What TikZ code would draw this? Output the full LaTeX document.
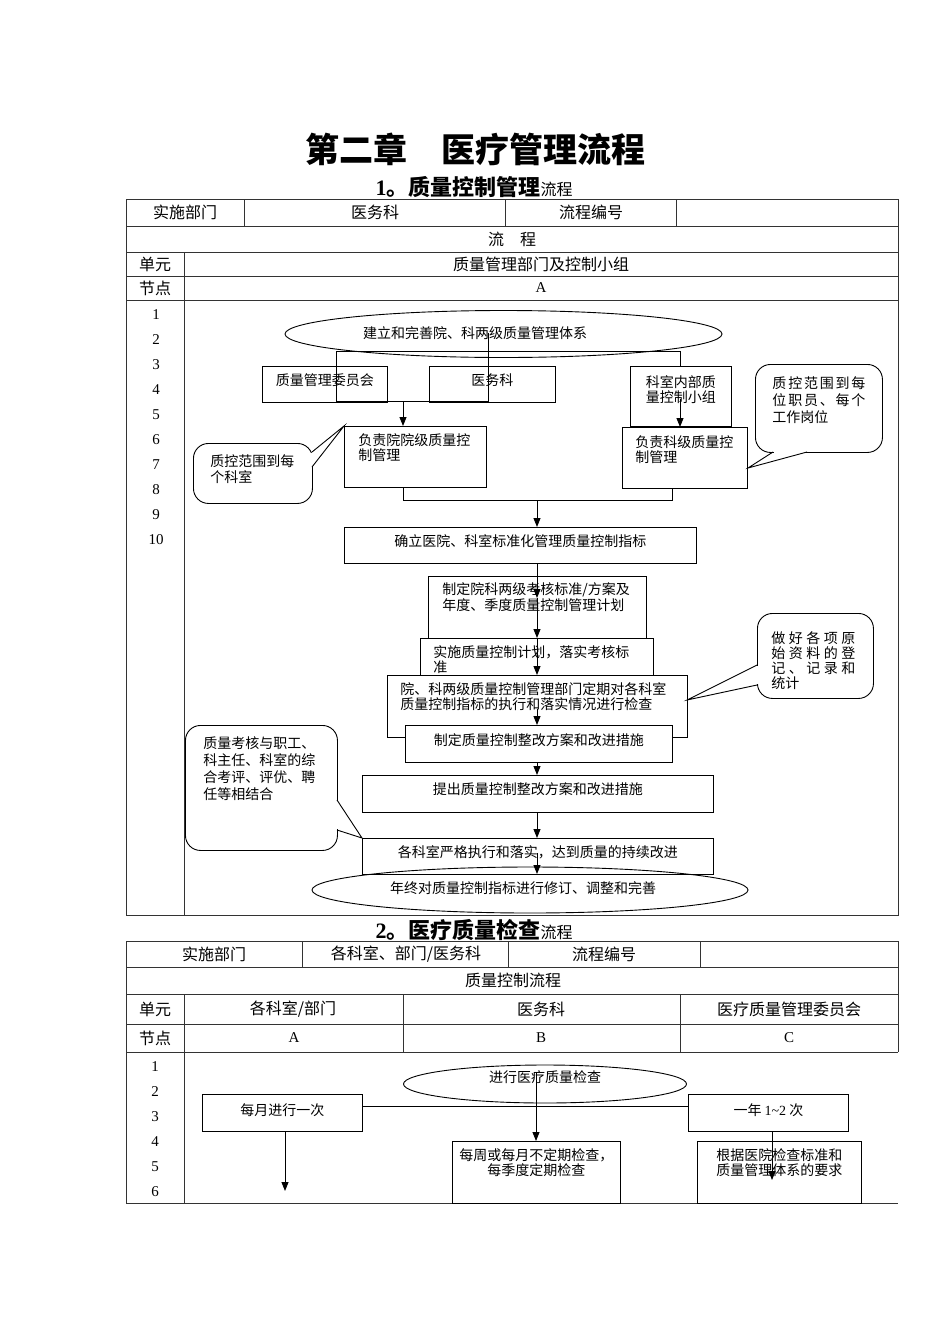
\documentclass[tikz,border=0pt]{standalone}
\usepackage{fontspec}
\setmainfont{Liberation Serif}
\newfontfamily\cjk{Noto Sans CJK SC}
\usetikzlibrary{arrows.meta,shapes.geometric,calc}
\newcommand\pbx[5]{\parbox[c][#2pt][t]{#1pt}{#3\vspace*{#4pt}#5}}
\newcommand\spr[2]{\makebox[#1pt][s]{#2}}
\begin{document}
\begin{tikzpicture}[x=1pt,y=-1pt,
  tl/.style={draw=black!80, line width=0.8pt},
  ln/.style={line width=0.9pt},
  arr/.style={line width=0.9pt,-{Triangle[length=9pt,width=7pt]}},
  fb/.style={draw, fill=white, line width=0.9pt, inner sep=0pt, anchor=north west, font=\cjk\fontsize{14}{15}\selectfont},
  cl/.style={fb, rounded corners=15pt},
  hd/.style={font=\cjk\fontsize{16}{18}\selectfont, inner sep=0pt},
  num/.style={font=\fontsize{15}{17}\selectfont, inner sep=0pt},
  ft/.style={font=\cjk\fontsize{14}{15}\selectfont, inner sep=0pt},
  el/.style={draw, ellipse, line width=0.9pt, inner sep=0pt},
]
\useasboundingbox (0,0) rectangle (950,1344);

% ---------- titles
\node[font=\cjk\bfseries\fontsize{34}{36}\selectfont, inner sep=0pt] (t0) at (475,149) {第二章　医疗管理流程};
\node[inner sep=0pt] (t1) at (474,187) {{\bfseries\fontsize{22}{24}\selectfont 1}{\cjk\bfseries\fontsize{22}{24}\selectfont 。质量控制管理}{\cjk\fontsize{16}{18}\selectfont 流程}};

% ---------- table 1 frame
\draw[tl] (126,199) rectangle (898,915);
\foreach \yy in {226,252,276,300} \draw[tl] (126,\yy) -- (898,\yy);
\foreach \xx in {244,505,676} \draw[tl] (\xx,199) -- (\xx,226);
\draw[tl] (184,252) -- (184,915);

\node[hd] (a1) at (185,212.5) {实施部门};
\node[hd] (a2) at (375,212.5) {医务科};
\node[hd] (a3) at (591,212.5) {流程编号};
\node[hd] (a4) at (512,239) {流\hspace{1em}程};
\node[hd] (a5) at (155,264) {单元};
\node[hd] (a6) at (541,264) {质量管理部门及控制小组};
\node[hd] (a7) at (155,288) {节点};
\node[num] (a8) at (541,288) {A};
\foreach \i in {1,...,10} \node[num] (n\i) at (156,289.5+25*\i) {\i};

% ---------- table 1 flow
\node[el, minimum width=437pt, minimum height=47pt] (e1) at (503.5,334) {};
\node[ft] (e1t) at (475,333) {建立和完善院、科两级质量管理体系};

\node[fb] (qm) at (262,366) {\pbx{125}{36}{\centering}{7}{质量管理委员会}};
\node[fb] (yw) at (429,366) {\pbx{126}{36}{\centering}{7}{医务科}};
\node[fb] (ks) at (630,366) {\pbx{101}{60}{\centering}{9}{科室内部质\\量控制小组}};

\coordinate (j1) at (336,351);
\coordinate (j2) at (680,351);
\coordinate (j3) at (488,333);
\coordinate (j4) at (336,401);
\coordinate (j5) at (488,401);
\coordinate (j6) at (403,401);
\coordinate (j7) at (680,399);

\node[fb, inner xsep=14pt] (fy) at (344,426) {\pbx{114}{61}{\raggedright}{7}{负责院院级质量控\\制管理}};
\node[fb, inner xsep=13pt] (fk) at (622,427) {\pbx{99}{61}{\raggedright}{8}{负责科级质量控\\制管理}};

\draw[ln] (j1) -- (j2);
\draw[ln] (j1) -- (j4) -- (j5) -- (j3);
\draw[ln] (j2) -- (j2 |- ks.north);
\draw[arr] (j6) -- (j6 |- fy.north);
\draw[arr] (j7) -- (j7 |- fk.north);

% callouts top
\node[cl, inner xsep=17pt] (c1) at (755,364) {\pbx{93}{88}{\raggedright\fontsize{14}{17}\selectfont}{12}{\spr{93}{质\hfill 控\hfill 范\hfill 围\hfill 到\hfill 每}\\\spr{93}{位\hfill 职\hfill 员\hfill 、\hfill 每\hfill 个}\\工作岗位}};
\coordinate (c1a) at (773,452); \coordinate (c1t) at (748,468); \coordinate (c1b) at (807,452);
\fill[white] (774,449) rectangle (806,454.5);
\draw[ln] (c1a) -- (c1t) -- (c1b);

\node[cl, inner xsep=17pt] (c2) at (193,443) {\pbx{85}{60}{\raggedright\fontsize{14}{16}\selectfont}{11}{质控范围到每\\个科室}};
\coordinate (c2a) at (312,452); \coordinate (c2b) at (312,467);
\fill[white] (309,453) rectangle (314.5,466);
\draw[ln] (c2a) -- (fy.north west) -- (c2b);

% main spine
\coordinate (m1) at (403,500); \coordinate (m2) at (672,500); \coordinate (sp) at (537,500);
\draw[ln] (fy.south -| m1) -- (m1) -- (m2) -- (fk.south -| m2);

\node[fb] (qr) at (344,527) {\pbx{352}{36}{\centering}{7}{确立医院、科室标准化管理质量控制指标}};
\node[fb, inner xsep=14pt] (zd) at (428,576) {\pbx{190}{62}{\raggedright\fontsize{14}{16}\selectfont}{6}{制定院科两级考核标准/方案及\\年度、季度质量控制管理计划}};
\node[fb, inner xsep=13pt] (ss) at (420,638) {\pbx{207}{38}{\raggedright}{7}{实施质量控制计划，落实考核标\\准}};
\node[fb, inner xsep=13pt] (zy) at (387,675) {\pbx{274}{62}{\raggedright}{7}{院、科两级质量控制管理部门定期对各科室\\质量控制指标的执行和落实情况进行检查}};
\node[fb] (zg) at (405,725) {\pbx{267}{37}{\centering}{8}{制定质量控制整改方案和改进措施}};
\node[fb] (tc) at (362,775) {\pbx{351}{37}{\centering}{7}{提出质量控制整改方案和改进措施}};
\node[fb] (gk) at (362,838) {\pbx{351}{36}{\centering}{7}{各科室严格执行和落实，达到质量的持续改进}};

\draw[arr] (sp) -- (sp |- qr.north);
\coordinate (s1) at (537,598);
\draw[arr] (sp |- qr.south) -- (s1);
\draw[arr] (s1) -- (sp |- ss.north);
\draw[arr] (sp |- ss.north) -- (sp |- zy.north);
\coordinate (s2) at (537,709);
\draw[arr] (s2) -- (sp |- zg.north);
\draw[arr] (sp |- zg.south) -- (sp |- tc.north);
\draw[arr] (sp |- tc.south) -- (sp |- gk.north);

% callouts bottom
\node[cl, inner xsep=14pt] (c3) at (757,613) {\pbx{88}{85}{\raggedright}{18}{\spr{84}{做\hfill 好\hfill 各\hfill 项\hfill 原}\\\spr{84}{始\hfill 资\hfill 料\hfill 的\hfill 登}\\\spr{84}{记\hfill 、\hfill 记\hfill 录\hfill 和}\\统计}};
\coordinate (c3a) at (757,665); \coordinate (c3t) at (687,700); \coordinate (c3b) at (757,685);
\fill[white] (754.5,666) rectangle (760,684);
\draw[ln] (c3a) -- (c3t) -- (c3b);

\node[cl, inner xsep=18pt] (c4) at (185,725) {\pbx{116}{125}{\raggedright\fontsize{14}{17}\selectfont}{11}{质量考核与职工、\\科主任、科室的综\\合考评、评优、聘\\任等相结合}};
\coordinate (c4a) at (337,800); \coordinate (c4b) at (337,830);
\fill[white] (334,801) rectangle (339.5,829);
\draw[ln] (c4a) -- (gk.north west) -- (c4b);

% final ellipse
\node[el, minimum width=436pt, minimum height=46pt] (e2) at (530,890) {};
\node[ft] (e2t) at (523,888) {年终对质量控制指标进行修订、调整和完善};
\coordinate (s3) at (537,853); \coordinate (s4) at (537,874);
\draw[arr] (s3) -- (s4);

% ---------- table 2
\node[inner sep=0pt] (t2) at (474,930) {{\bfseries\fontsize{22}{24}\selectfont 2}{\cjk\bfseries\fontsize{22}{24}\selectfont 。医疗质量检查}{\cjk\fontsize{16}{18}\selectfont 流程}};

\draw[tl] (126,941) -- (898,941) -- (898,1052);
\draw[tl] (126,941) -- (126,1203) -- (898,1203);
\foreach \yy in {967,994,1024,1052} \draw[tl] (126,\yy) -- (898,\yy);
\foreach \xx in {302,508,700} \draw[tl] (\xx,941) -- (\xx,967);
\foreach \xx in {403,680} \draw[tl] (\xx,994) -- (\xx,1052);
\draw[tl] (184,994) -- (184,1203);

\node[hd] (b1) at (214,954) {实施部门};
\node[hd] (b2) at (406,954) {各科室、部门/医务科};
\node[hd] (b3) at (604,954) {流程编号};
\node[hd] (b4) at (513,980.5) {质量控制流程};
\node[hd] (b5) at (155,1009) {单元};
\node[hd] (b6) at (293,1009) {各科室/部门};
\node[hd] (b7) at (541,1009) {医务科};
\node[hd] (b8) at (789,1009) {医疗质量管理委员会};
\node[hd] (b9) at (155,1038) {节点};
\node[num] (b10) at (294,1038) {A};
\node[num] (b11) at (541,1038) {B};
\node[num] (b12) at (789,1038) {C};
\foreach \i in {1,...,6} \node[num] (m\i) at (155,1042+25*\i) {\i};

\node[el, minimum width=283pt, minimum height=38pt] (e3) at (545,1084) {};
\node[ft] (e3t) at (545,1077) {进行医疗质量检查};
\node[fb] (my) at (202,1094) {\pbx{160}{37}{\centering}{9}{每月进行一次}};
\node[fb] (yn) at (688,1094) {\pbx{160}{37}{\centering}{9}{一年 {\rmfamily 1\textasciitilde 2} 次}};
\node[fb] (mz) at (452,1141) {\pbx{168}{62}{\centering}{7}{每周或每月不定期检查，\\每季度定期检查}};
\node[fb] (gj) at (697,1141) {\pbx{164}{62}{\centering}{7}{根据医院检查标准和\\质量管理体系的要求}};

\coordinate (hh) at (0,1106);
\draw[ln] (my.east |- hh) -- (yn.west |- hh);
\coordinate (v1) at (536,1072);
\draw[arr] (v1) -- (v1 |- mz.north);
\coordinate (v2) at (285,1191);
\draw[arr] (v2 |- my.south) -- (v2);
\coordinate (v3) at (772,1180);
\draw[arr] (v3 |- yn.south) -- (v3);
\end{tikzpicture}
\end{document}
